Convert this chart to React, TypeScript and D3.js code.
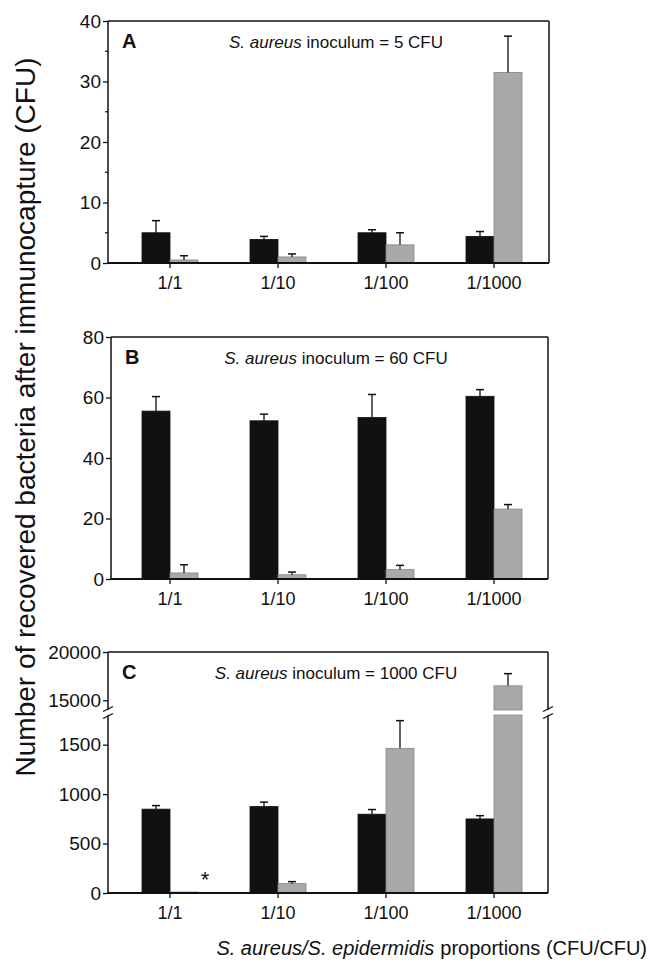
import React, { useEffect, useRef } from 'react';
import * as d3 from 'd3';

// proportions S. aureus / S. epidermidis
const categories = ['1/1', '1/10', '1/100', '1/1000'];

// panel A : inoculum 5 CFU
const aAureus = [5, 3.9, 5, 4.4];
const aAureusSd = [2, 0.5, 0.5, 0.8];
const aEpi = [0.5, 1, 3, 31.5];
const aEpiSd = [0.7, 0.5, 2, 6];
const aTicks = [0, 10, 20, 30, 40];
const aMinor = [5, 15, 25, 35];

// panel B : inoculum 60 CFU
const bAureus = [55.5, 52.3, 53.4, 60.4];
const bAureusSd = [4.8, 2.2, 7.6, 2.2];
const bEpi = [2, 1.4, 3.1, 23.1];
const bEpiSd = [2.7, 0.9, 1.4, 1.5];
const bTicks = [0, 20, 40, 60, 80];

// panel C : inoculum 1000 CFU (broken axis)
const cAureus = [848, 874, 797, 749];
const cAureusSd = [36, 45, 47, 33];
const cEpi = [10, 95, 1463, 16500];
const cEpiSd = [0, 20, 280, 1260];
const cLowTicks = [0, 500, 1000, 1500];
const cHighTicks = [15000, 20000];

const FONT = '"Liberation Sans", Arial, Helvetica, sans-serif';
const INK = '#111';
const GREY = '#a9a9a9';

const App = () => {
    const svgRef = useRef<SVGSVGElement>(null);

    useEffect(() => {
        const svg = d3.select(svgRef.current);
        svg.selectAll('*').remove();

        const x = d3.scaleBand().domain(categories).range([116, 548]);
        const barW = 28;

        const styleAxis = (g: any, size: number) => {
            g.select('.domain').remove();
            g.selectAll('line').attr('stroke', INK).attr('stroke-width', 1.3);
            g.selectAll('text').attr('fill', INK).style('font-family', FONT).style('font-size', size + 'px');
        };

        const drawPanel = (opts: any) => {
            const { left, right, top, bottom, y, yHigh, ticks, highTicks, minor, aureus, aureusSd, epi, epiSd, letter, dose } = opts;
            const g = svg.append('g');

            // frame
            if (yHigh) {
                const gapTop = yHigh.range()[0];
                const gapBot = y.range()[1];
                [left, right].forEach(xx => {
                    g.append('line').attr('x1', xx).attr('x2', xx).attr('y1', top).attr('y2', gapTop)
                        .attr('stroke', INK).attr('stroke-width', 1.5);
                    g.append('line').attr('x1', xx).attr('x2', xx).attr('y1', gapBot).attr('y2', bottom)
                        .attr('stroke', INK).attr('stroke-width', 1.5);
                    [gapTop - 1, gapBot + 1].forEach(yy => {
                        g.append('line').attr('x1', xx - 5).attr('x2', xx + 5)
                            .attr('y1', yy + 2.5).attr('y2', yy - 2.5)
                            .attr('stroke', INK).attr('stroke-width', 1.3);
                    });
                });
            } else {
                [left, right].forEach(xx => {
                    g.append('line').attr('x1', xx).attr('x2', xx).attr('y1', top).attr('y2', bottom)
                        .attr('stroke', INK).attr('stroke-width', 1.5);
                });
            }
            g.append('line').attr('x1', left).attr('x2', right).attr('y1', top).attr('y2', top)
                .attr('stroke', INK).attr('stroke-width', 1.5);

            // y axis
            const ya = g.append('g').attr('transform', `translate(${left},0)`)
                .call(d3.axisLeft(y).tickValues(ticks).tickSize(5).tickPadding(2).tickFormat(d3.format('d')));
            styleAxis(ya, 19);
            if (yHigh) {
                const yb = g.append('g').attr('transform', `translate(${left},0)`)
                    .call(d3.axisLeft(yHigh).tickValues(highTicks).tickSize(5).tickPadding(2).tickFormat(d3.format('d')));
                styleAxis(yb, 19);
            }
            if (minor) {
                g.selectAll('.minor').data(minor).enter().append('line')
                    .attr('x1', left - 3).attr('x2', left)
                    .attr('y1', (d: number) => y(d)).attr('y2', (d: number) => y(d))
                    .attr('stroke', INK).attr('stroke-width', 1.2);
            }

            // bars
            const drawBar = (vals: number[], sds: number[], dx: number, fill: string, stroke: string) => {
                vals.forEach((v, i) => {
                    const x0 = (x(categories[i]) as number) + x.bandwidth() / 2 + dx;
                    const lowMax = y.domain()[1];
                    let errScale = y;
                    if (yHigh && v > lowMax) {
                        g.append('rect').attr('x', x0).attr('width', barW)
                            .attr('y', y(lowMax)).attr('height', y(0) - y(lowMax))
                            .attr('fill', fill).attr('stroke', stroke).attr('stroke-width', 0.8);
                        g.append('rect').attr('x', x0).attr('width', barW)
                            .attr('y', yHigh(v)).attr('height', yHigh.range()[0] - yHigh(v))
                            .attr('fill', fill).attr('stroke', stroke).attr('stroke-width', 0.8);
                        errScale = yHigh;
                    } else {
                        g.append('rect').attr('x', x0).attr('width', barW)
                            .attr('y', y(v)).attr('height', y(0) - y(v))
                            .attr('fill', fill).attr('stroke', stroke).attr('stroke-width', 0.8);
                    }
                    if (sds[i] > 0) {
                        const cx = x0 + barW / 2;
                        g.append('line').attr('x1', cx).attr('x2', cx)
                            .attr('y1', errScale(v)).attr('y2', errScale(v + sds[i]))
                            .attr('stroke', INK).attr('stroke-width', 1.3);
                        g.append('line').attr('x1', cx - 4).attr('x2', cx + 4)
                            .attr('y1', errScale(v + sds[i])).attr('y2', errScale(v + sds[i]))
                            .attr('stroke', INK).attr('stroke-width', 1.5);
                    }
                });
            };
            drawBar(aureus, aureusSd, -barW, INK, INK);
            drawBar(epi, epiSd, 0, GREY, '#858585');

            // x axis
            const xa = g.append('g').attr('transform', `translate(0,${bottom})`)
                .call(d3.axisBottom(x).tickSize(5).tickPadding(8).tickSizeOuter(0));
            styleAxis(xa, 18);
            g.append('line').attr('x1', left).attr('x2', right).attr('y1', bottom).attr('y2', bottom)
                .attr('stroke', INK).attr('stroke-width', 1.8);

            // panel texts
            g.append('text').attr('x', left + 14).attr('y', top + 27)
                .style('font-family', FONT).style('font-size', '20px').style('font-weight', 'bold')
                .attr('fill', INK).text(letter);
            const t = g.append('text').attr('x', 336).attr('y', top + 27).attr('text-anchor', 'middle')
                .style('font-family', FONT).style('font-size', '17px').attr('fill', INK);
            t.append('tspan').style('font-style', 'italic').text('S. aureus');
            t.append('tspan').text(` inoculum = ${dose} CFU`);
            return g;
        };

        drawPanel({
            left: 108, right: 549, top: 21, bottom: 263,
            y: d3.scaleLinear().domain([0, 40]).range([263, 21]),
            ticks: aTicks, minor: aMinor,
            aureus: aAureus, aureusSd: aAureusSd, epi: aEpi, epiSd: aEpiSd,
            letter: 'A', dose: 5,
        });

        drawPanel({
            left: 111, right: 548, top: 337, bottom: 579,
            y: d3.scaleLinear().domain([0, 80]).range([579, 337]),
            ticks: bTicks,
            aureus: bAureus, aureusSd: bAureusSd, epi: bEpi, epiSd: bEpiSd,
            letter: 'B', dose: 60,
        });

        const yLow = d3.scaleLinear().domain([0, 1800]).range([893, 715]);
        const yHigh = d3.scaleLinear().domain([14000, 20000]).range([710, 652]);
        const gc = drawPanel({
            left: 108, right: 548, top: 652, bottom: 893,
            y: yLow, yHigh, ticks: cLowTicks, highTicks: cHighTicks,
            aureus: cAureus, aureusSd: cAureusSd, epi: cEpi, epiSd: cEpiSd,
            letter: 'C', dose: 1000,
        });
        // asterisk over the 1/1 S. epidermidis bar
        gc.append('text')
            .attr('x', (x('1/1') as number) + x.bandwidth() / 2 + barW + 7)
            .attr('y', yLow(cEpi[0]) - 5)
            .attr('text-anchor', 'middle')
            .style('font-family', FONT).style('font-size', '22px').attr('fill', INK).text('*');

        // axis titles
        svg.append('text')
            .attr('transform', 'translate(35,417) rotate(-90)')
            .attr('text-anchor', 'middle')
            .style('font-family', FONT).style('font-size', '28px').attr('fill', INK)
            .text('Number of recovered bacteria after immunocapture (CFU)');

        const xt = svg.append('text').attr('x', 647).attr('y', 955).attr('text-anchor', 'end')
            .style('font-family', FONT).style('font-size', '20px').attr('fill', INK);
        xt.append('tspan').style('font-style', 'italic').text('S. aureus/S. epidermidis');
        xt.append('tspan').attr('dx', 6).text('proportions (CFU/CFU)');
    }, []);

    return (
        <svg ref={svgRef} width={650} height={968}
            style={{ position: 'absolute', left: 0, top: 0, background: '#fff' }} />
    );
};

export default App;
